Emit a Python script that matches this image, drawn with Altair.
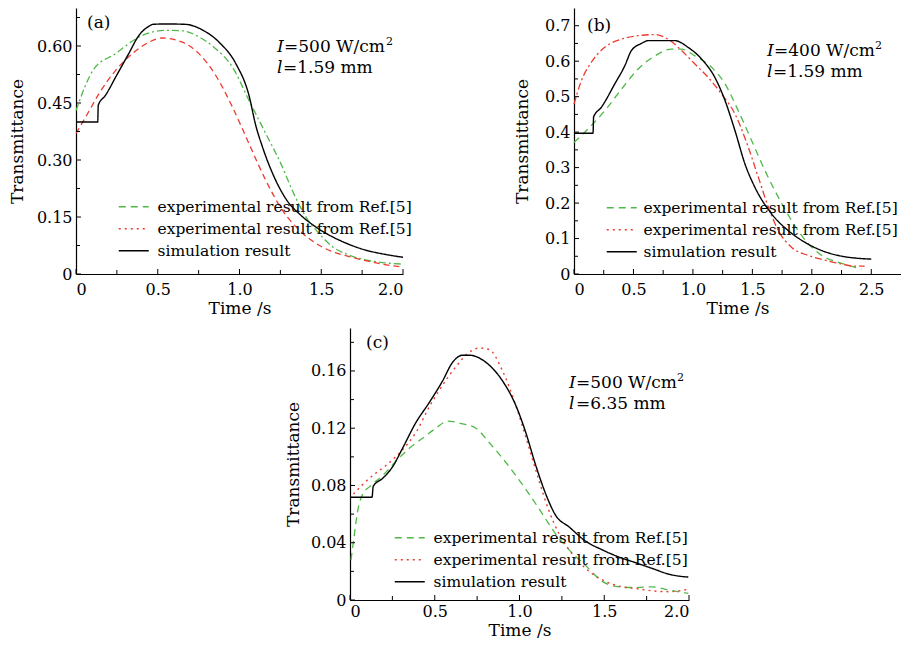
import altair as alt
import pandas as pd

# ---------------- data ----------------
# panel (a): I=500 W/cm2, l=1.59 mm
a_sim_t = [0, 0.133, 0.136, 0.18, 0.25, 0.32, 0.385, 0.446, 0.47, 0.55, 0.67, 0.77, 0.875, 0.977, 1.058, 1.10, 1.14, 1.221, 1.303, 1.364, 1.466, 1.568, 1.67, 1.77, 1.874, 2.0]
a_sim_T = [0.40, 0.40, 0.444, 0.47, 0.524, 0.578, 0.628, 0.652, 0.657, 0.658, 0.657, 0.643, 0.61, 0.554, 0.47, 0.39, 0.335, 0.247, 0.186, 0.159, 0.124, 0.098, 0.078, 0.063, 0.053, 0.044]
a_g_t = [0, 0.11, 0.243, 0.345, 0.406, 0.548, 0.65, 0.752, 0.854, 0.956, 1.058, 1.16, 1.262, 1.323, 1.405, 1.486, 1.568, 1.67, 1.772, 1.874, 2.0]
a_g_T = [0.43, 0.54, 0.58, 0.613, 0.628, 0.641, 0.64, 0.624, 0.593, 0.545, 0.457, 0.37, 0.282, 0.22, 0.151, 0.107, 0.072, 0.05, 0.037, 0.03, 0.026]
a_r_t = [0, 0.059, 0.141, 0.243, 0.345, 0.446, 0.528, 0.65, 0.752, 0.854, 0.956, 1.058, 1.16, 1.262, 1.364, 1.466, 1.568, 1.67, 1.772, 1.874, 2.0]
a_r_T = [0.37, 0.413, 0.475, 0.536, 0.58, 0.61, 0.621, 0.61, 0.58, 0.523, 0.44, 0.343, 0.247, 0.168, 0.116, 0.081, 0.059, 0.046, 0.035, 0.026, 0.018]

# panel (b): I=400 W/cm2, l=1.59 mm
b_sim_t = [0, 0.16, 0.165, 0.23, 0.343, 0.427, 0.483, 0.567, 0.624, 0.848, 0.96, 1.073, 1.185, 1.27, 1.354, 1.438, 1.522, 1.663, 1.803, 1.944, 2.084, 2.225, 2.365, 2.5]
b_sim_T = [0.397, 0.397, 0.443, 0.47, 0.536, 0.587, 0.63, 0.65, 0.658, 0.658, 0.639, 0.606, 0.554, 0.489, 0.404, 0.31, 0.244, 0.169, 0.122, 0.089, 0.066, 0.052, 0.045, 0.042]
b_g_t = [0, 0.118, 0.258, 0.399, 0.54, 0.68, 0.82, 0.904, 1.017, 1.157, 1.27, 1.382, 1.494, 1.607, 1.719, 1.831, 1.972, 2.084, 2.225, 2.365, 2.416]
b_g_T = [0.371, 0.409, 0.46, 0.521, 0.578, 0.615, 0.634, 0.634, 0.615, 0.583, 0.536, 0.46, 0.376, 0.291, 0.216, 0.15, 0.085, 0.052, 0.033, 0.019, 0.014]
b_r_t = [0, 0.062, 0.146, 0.258, 0.399, 0.54, 0.68, 0.792, 0.904, 1.017, 1.129, 1.242, 1.354, 1.466, 1.551, 1.635, 1.719, 1.831, 1.972, 2.112, 2.253, 2.365, 2.444]
b_r_T = [0.479, 0.545, 0.597, 0.639, 0.662, 0.672, 0.675, 0.662, 0.63, 0.592, 0.554, 0.507, 0.451, 0.357, 0.272, 0.188, 0.122, 0.075, 0.052, 0.039, 0.028, 0.022, 0.022]

# panel (c): I=500 W/cm2, l=6.35 mm
c_sim_t = [0, 0.13, 0.137, 0.193, 0.251, 0.31, 0.389, 0.468, 0.546, 0.605, 0.664, 0.703, 0.802, 0.9, 0.978, 1.037, 1.096, 1.155, 1.214, 1.293, 1.391, 1.489, 1.587, 1.686, 1.784, 1.882, 1.996]
c_sim_T = [0.0718, 0.0718, 0.0794, 0.085, 0.093, 0.106, 0.124, 0.138, 0.153, 0.166, 0.171, 0.171, 0.166, 0.153, 0.136, 0.117, 0.094, 0.074, 0.059, 0.051, 0.041, 0.035, 0.030, 0.026, 0.022, 0.018, 0.016]
c_g_t = [0.006, 0.026, 0.045, 0.075, 0.114, 0.193, 0.271, 0.35, 0.428, 0.507, 0.576, 0.664, 0.743, 0.821, 0.9, 0.978, 1.057, 1.136, 1.214, 1.293, 1.391, 1.489, 1.587, 1.686, 1.784, 1.882, 1.996]
c_g_T = [0.028, 0.046, 0.062, 0.074, 0.079, 0.087, 0.097, 0.106, 0.113, 0.12, 0.125, 0.123, 0.12, 0.11, 0.099, 0.087, 0.074, 0.06, 0.046, 0.035, 0.024, 0.013, 0.0092, 0.0087, 0.0092, 0.0069, 0.0046]
c_r_t = [0.02, 0.114, 0.212, 0.31, 0.389, 0.468, 0.546, 0.625, 0.703, 0.762, 0.821, 0.9, 0.978, 1.057, 1.116, 1.175, 1.234, 1.293, 1.391, 1.489, 1.587, 1.686, 1.784, 1.882, 1.99]
c_r_T = [0.074, 0.085, 0.094, 0.105, 0.117, 0.135, 0.15, 0.163, 0.173, 0.176, 0.175, 0.16, 0.136, 0.106, 0.083, 0.062, 0.046, 0.035, 0.022, 0.014, 0.0097, 0.008, 0.0064, 0.0058, 0.0074]

# axis ticks
x_major_2 = [0, 0.5, 1.0, 1.5, 2.0]
x_minor_2 = [0.25, 0.75, 1.25, 1.75]
x_major_b = [0, 0.5, 1.0, 1.5, 2.0, 2.5]
x_minor_b = [0.25, 0.75, 1.25, 1.75, 2.25]
y_major_a = [0, 0.15, 0.30, 0.45, 0.60]
y_minor_a = [0.075, 0.225, 0.375, 0.525, 0.675]
y_major_b = [0, 0.1, 0.2, 0.3, 0.4, 0.5, 0.6, 0.7]
y_minor_b = [0.05, 0.15, 0.25, 0.35, 0.45, 0.55, 0.65]
y_major_c = [0, 0.04, 0.08, 0.12, 0.16]
y_minor_c = [0.02, 0.06, 0.10, 0.14, 0.18]

series_keys = ["exp1", "exp2", "sim"]
series_labels = ["experimental result from Ref.[5]", "experimental result from Ref.[5]", "simulation result"]

FONT = "DejaVu Serif"
GREEN = "#4fb947"
RED = "#ec3a2e"
BLACK = "#000000"
DASHED = [7, 5]
DOTTED = [2, 4]
DASHDOT = [7, 3, 2, 3]


def one_row():
    return pd.DataFrame({"k": [0]})


def text_layer(s, x, y, size=17, italic=False):
    return alt.Chart(one_row()).mark_text(
        font=FONT, fontSize=size, fontStyle="italic" if italic else "normal",
        align="left", baseline="alphabetic", color="black"
    ).encode(x=alt.value(x), y=alt.value(y), text=alt.value(s))


def panel(tag, lines, xdom, ydom, xmaj, xmin, ymaj, ymin, yfmt, w, h, ytp, xlp, xtp,
          intensity, length, note_x, note_y, sup_x, eq2_x, leg_x, leg_y, leg_off, tag_x, tag_y):
    x_enc = alt.X("t:Q", scale=alt.Scale(domain=xdom, nice=False, zero=False),
                  axis=alt.Axis(values=xmaj, title="Time /s", labelPadding=xlp, titlePadding=xtp,
                                labelExpr="datum.value == 0 ? '0' : format(datum.value, '.1f')"))
    y_enc = alt.Y("T:Q", scale=alt.Scale(domain=ydom, nice=False, zero=False),
                  axis=alt.Axis(values=ymaj, title="Transmittance", titlePadding=ytp,
                                labelExpr="datum.value == 0 ? '0' : format(datum.value, '%s')" % yfmt))
    layers = []
    for t, T, color, dash, sw in lines:
        df = pd.DataFrame({"t": t, "T": T})
        layers.append(alt.Chart(df).mark_line(
            interpolate="monotone", color=color, strokeDash=dash, strokeWidth=sw
        ).encode(x=x_enc, y=y_enc))

    # ticks pointing inwards
    layers.append(alt.Chart(pd.DataFrame({"t": xmaj})).mark_rule(color="black", strokeWidth=1)
                  .encode(x=x_enc, y=alt.value(h), y2=alt.value(h - 5)))
    layers.append(alt.Chart(pd.DataFrame({"t": xmin})).mark_rule(color="black", strokeWidth=1)
                  .encode(x=x_enc, y=alt.value(h), y2=alt.value(h - 4)))
    layers.append(alt.Chart(pd.DataFrame({"T": ymaj})).mark_rule(color="black", strokeWidth=1)
                  .encode(y=y_enc, x=alt.value(0), x2=alt.value(5)))
    layers.append(alt.Chart(pd.DataFrame({"T": ymin})).mark_rule(color="black", strokeWidth=1)
                  .encode(y=y_enc, x=alt.value(0), x2=alt.value(4)))

    # legend (from an empty layer, domain fixed)
    label_expr = "datum.value == 'sim' ? '%s' : '%s'" % (series_labels[2], series_labels[0])
    leg = alt.Legend(orient="none", legendX=leg_x, legendY=leg_y, title=None,
                     symbolType="M-3,0H3", symbolSize=100, symbolStrokeWidth=1.3,
                     labelOffset=leg_off, rowPadding=5, padding=0, labelExpr=label_expr,
                     labelFont=FONT, labelFontSize=15.5, labelColor="black", labelLimit=400)
    leg_df = pd.DataFrame({"t": [0, 0, 0], "T": [0, 0, 0], "series": series_keys})
    layers.append(alt.Chart(leg_df).transform_filter("false").mark_line().encode(
        x=x_enc, y=y_enc,
        color=alt.Color("series:N", scale=alt.Scale(domain=series_keys, range=[GREEN, RED, BLACK]), legend=leg),
        strokeDash=alt.StrokeDash("series:N", scale=alt.Scale(domain=series_keys, range=[DASHED, DOTTED, [1, 0]]), legend=leg),
    ))

    # annotations
    layers.append(text_layer("I", note_x, note_y, italic=True))
    layers.append(text_layer("=" + intensity + " W/cm", note_x + 7, note_y))
    layers.append(text_layer("2", sup_x, note_y - 7, size=11))
    layers.append(text_layer("l", note_x, note_y + 21, italic=True))
    layers.append(text_layer("=" + length + " mm", eq2_x, note_y + 21))
    layers.append(text_layer(tag, tag_x, tag_y))

    return alt.layer(*layers).properties(width=w, height=h)


pa = panel("(a)",
           [(a_g_t, a_g_T, GREEN, DASHDOT, 1.3), (a_r_t, a_r_T, RED, [6, 4], 1.3), (a_sim_t, a_sim_T, BLACK, [1, 0], 1.4)],
           [0, 2.0], [0, 0.70], x_major_2, x_minor_2, y_major_a, y_minor_a, ".2f", 327, 266, 10, 7, 3,
           "500", "1.59", 201, 44, 310, 207, 50, 191, 16, 11, 20)
pb = panel("(b)",
           [(b_g_t, b_g_T, GREEN, DASHED, 1.3), (b_r_t, b_r_T, RED, DASHDOT, 1.3), (b_sim_t, b_sim_T, BLACK, [1, 0], 1.4)],
           [0, 2.75], [0, 0.75], x_major_b, x_minor_b, y_major_b, y_minor_b, ".1f", 327, 266, 13, 7, 3,
           "400", "1.59", 193, 48, 301, 199, 40, 192, 14, 13, 23)
pc = panel("(c)",
           [(c_g_t, c_g_T, GREEN, DASHED, 1.3), (c_r_t, c_r_T, RED, DOTTED, 1.4), (c_sim_t, c_sim_T, BLACK, [1, 0], 1.4)],
           [0, 2.0], [0, 0.19], x_major_2, x_minor_2, y_major_c, y_minor_c, ".2f", 339, 272, 8, 3, 3,
           "500", "6.35", 219, 60, 327, 226, 52, 202, 16, 16, 20)

# invisible spacer that shifts panel (c) to the right
spacer = alt.Chart(one_row()).transform_filter("false").mark_point(opacity=0).encode(
    x=alt.X("k:Q", axis=None), y=alt.Y("k:Q", axis=None)
).properties(width=264, height=10)

indep = dict(color="independent", strokeDash="independent")
top = alt.hconcat(pa, pb, spacing=171, bounds="flush").resolve_scale(**indep).resolve_legend(**indep)
bottom = alt.hconcat(spacer, pc, spacing=10, bounds="flush").resolve_scale(**indep).resolve_legend(**indep)

chart = alt.vconcat(top, bottom, spacing=12).resolve_scale(**indep).resolve_legend(**indep).properties(
    padding={"left": 0, "top": 0, "right": 0, "bottom": 0}
).configure_view(stroke=None).configure_axis(
    grid=False, ticks=False, domainColor="black", domainWidth=1.2,
    labelFont=FONT, labelFontSize=16, labelColor="black", labelOverlap=False,
    titleFont=FONT, titleFontSize=17, titleFontWeight="normal", titleColor="black",
).configure_axisY(labelPadding=4)

chart.save("out.html", embed_options={"renderer": "svg", "actions": False})
